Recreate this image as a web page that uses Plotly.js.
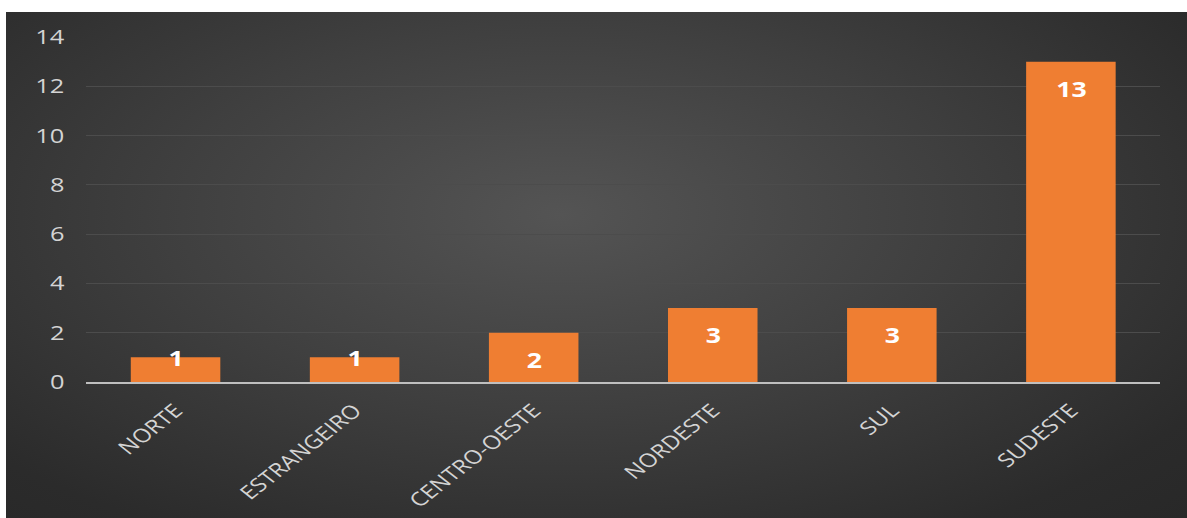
<!DOCTYPE html>
<html>
<head>
<meta charset="utf-8">
<script src="https://cdn.plot.ly/plotly-3.0.1.min.js"></script>
<style>
  html, body { margin: 0; padding: 0; background: #ffffff; width: 1187px; height: 518px; overflow: hidden; }
  #wrap { position: absolute; left: 6px; top: 12px; width: 1181px; height: 506px; overflow: hidden;
    background: radial-gradient(ellipse 75% 85% at 47% 40%, #545454 0%, #3f3f3f 45%, #2b2b2b 85%, #282828 100%); }
  #chart { width: 930px; height: 506px; transform: scaleX(1.27); transform-origin: 0 0; }
</style>
</head>
<body>
<div id="wrap"><div id="chart"></div></div>
<script>
const categories = ["NORTE", "ESTRANGEIRO", "CENTRO-OESTE", "NORDESTE", "SUL", "SUDESTE"];
const values = [1, 1, 2, 3, 3, 13];
const yTicks = [0, 2, 4, 6, 8, 10, 12, 14];

const plotH = 345, yMax = 14;
const pxPerUnit = plotH / yMax;
const FONT = 'Open Sans, Noto Sans, sans-serif';

const annotations = categories.map((c, i) => {
  const barPx = values[i] * pxPerUnit;
  const off = barPx >= 40 ? 27 : 1;
  return {
    x: c, y: values[i], xref: 'x', yref: 'y',
    text: '<b>' + values[i] + '</b>', showarrow: false,
    yanchor: 'middle', yshift: -off,
    font: { family: FONT, size: 21, color: '#ffffff' }
  };
});

const trace = {
  type: 'bar', x: categories, y: values,
  marker: { color: '#ef7e32', line: { width: 0 } },
  width: 0.5, hoverinfo: 'none', textposition: 'none'
};

const layout = {
  width: 930, height: 506,
  margin: { l: 62.5, r: 20.8, t: 25, b: 136 },
  paper_bgcolor: 'rgba(0,0,0,0)', plot_bgcolor: 'rgba(0,0,0,0)',
  showlegend: false,
  xaxis: {
    type: 'category', tickangle: -45, showgrid: false, zeroline: false,
    showline: true, linecolor: '#bfbfbf', linewidth: 2,
    ticks: '', ticklabelstandoff: 8,
    tickfont: { family: FONT, size: 19, color: '#d4d4d4' }
  },
  yaxis: {
    range: [0, 14], tickvals: yTicks, ticktext: yTicks.map(String),
    showgrid: true, gridcolor: '#4c4c4c', gridwidth: 1,
    zeroline: false, showline: false, ticks: '', ticklabelstandoff: 16,
    tickfont: { family: FONT, size: 20, color: '#d4d4d4' }
  },
  annotations: annotations
};

Plotly.newPlot('chart', [trace], layout, { displayModeBar: false, staticPlot: true });
</script>
</body>
</html>
